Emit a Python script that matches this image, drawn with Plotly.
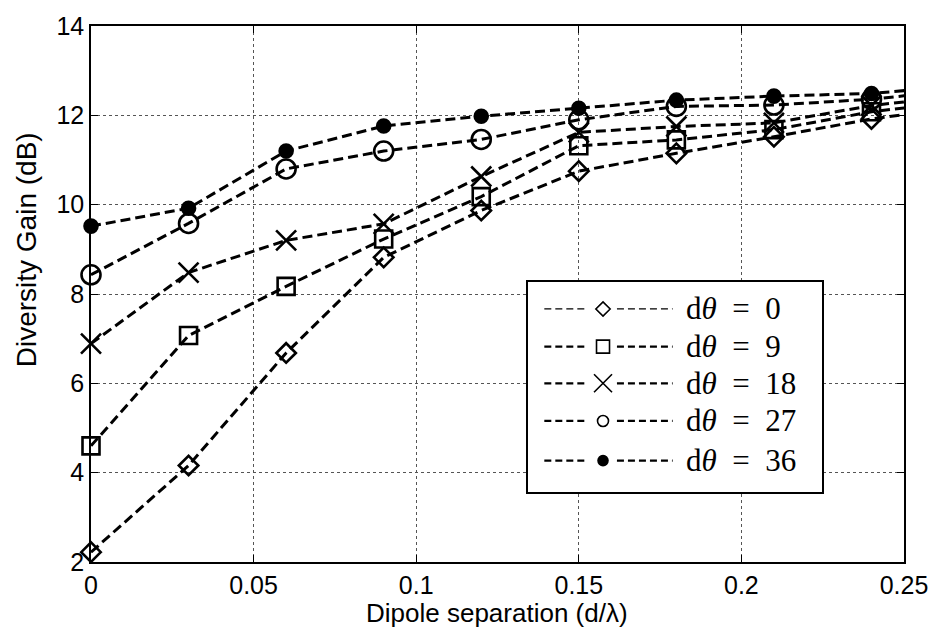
import plotly.graph_objects as go

# Dipole separation (d/lambda) sample points
separation = [0.0, 0.03, 0.06, 0.09, 0.12, 0.15, 0.18, 0.21, 0.24, 0.27]

# Diversity gain (dB) for each angular spread dtheta
gain_0 = [2.22, 4.16, 6.68, 8.82, 9.87, 10.75, 11.15, 11.52, 11.92, 12.20]
gain_9 = [4.60, 7.07, 8.17, 9.23, 10.18, 11.32, 11.45, 11.68, 12.08, 12.34]
gain_18 = [6.89, 8.48, 9.20, 9.57, 10.63, 11.62, 11.75, 11.83, 12.22, 12.46]
gain_27 = [8.43, 9.58, 10.80, 11.20, 11.46, 11.90, 12.20, 12.23, 12.36, 12.59]
gain_36 = [9.52, 9.92, 11.20, 11.76, 11.98, 12.16, 12.34, 12.43, 12.49, 12.68]

labels = ["0", "9", "18", "27", "36"]
x_ticks = [0, 0.05, 0.1, 0.15, 0.2, 0.25]
x_tick_text = ["0", "0.05", "0.1", "0.15", "0.2", "0.25"]
y_ticks = [2, 4, 6, 8, 10, 12, 14]

series = [gain_0, gain_9, gain_18, gain_27, gain_36]
symbols = ["diamond-open", "square-open", "x-thin-open", "circle-open", "circle"]
plot_sizes = [15, 17, 20, 19, 13]
legend_sizes = [11, 13, 18, 11, 10]

fig = go.Figure()

for vals, sym, sz in zip(series, symbols, plot_sizes):
    fig.add_trace(go.Scatter(
        x=separation, y=vals, mode="lines+markers",
        line=dict(color="black", width=3, dash="10px,5px"),
        marker=dict(symbol=sym, size=sz, color="black",
                    line=dict(color="black", width=2.6)),
        cliponaxis=False, showlegend=False, hoverinfo="skip",
    ))

# Legend panel drawn on its own inset axes (units: px inside the box)
row_y = [185, 147, 110, 72, 32]
for i, (lab, sym, sz) in enumerate(zip(labels, symbols, legend_sizes)):
    fig.add_trace(go.Scatter(
        x=[16, 60, None, 89, 145], y=[row_y[i]] * 5, xaxis="x2", yaxis="y2",
        mode="lines",
        line=dict(color="black", width=1.3 if i == 0 else 2.2, dash="7px,4px"),
        showlegend=False, hoverinfo="skip",
    ))
    fig.add_trace(go.Scatter(
        x=[75], y=[row_y[i]], xaxis="x2", yaxis="y2", mode="markers",
        marker=dict(symbol=sym, size=sz, color="black",
                    line=dict(color="black", width=1.6)),
        showlegend=False, hoverinfo="skip",
    ))
    fig.add_annotation(
        x=156, y=row_y[i], xref="x2", yref="y2", xanchor="left", yanchor="middle",
        text="d<i>θ</i>\u2002=\u2002" + lab, showarrow=False,
        font=dict(family="Liberation Serif", size=31, color="black"),
    )

axis_common = dict(
    showline=True, linecolor="black", linewidth=1.5, mirror="ticks",
    ticks="inside", ticklen=7, tickcolor="black", tickwidth=1,
    showgrid=True, gridcolor="#555555", gridwidth=1, griddash="dot",
    zeroline=False,
    tickfont=dict(family="Liberation Sans", size=25, color="black"),
)

fig.update_layout(
    width=940, height=630,
    margin=dict(l=91, r=30, t=22, b=68),
    paper_bgcolor="white", plot_bgcolor="white",
    xaxis=dict(range=[0, 0.25], tickvals=x_ticks, ticktext=x_tick_text, **axis_common),
    yaxis=dict(range=[2, 14], tickvals=y_ticks, **axis_common),
    xaxis2=dict(domain=[0.538, 0.899], range=[0, 295], anchor="y2",
                showline=True, linecolor="black", linewidth=1.5, mirror=True,
                showgrid=False, zeroline=False, showticklabels=False, ticks=""),
    yaxis2=dict(domain=[0.13, 0.522], range=[0, 212], anchor="x2",
                showline=True, linecolor="black", linewidth=1.5, mirror=True,
                showgrid=False, zeroline=False, showticklabels=False, ticks=""),
    showlegend=False,
)

fig.add_annotation(
    x=0.4994, y=-0.096, xref="paper", yref="paper", xanchor="center", yanchor="middle",
    text="Dipole separation (d/λ)", showarrow=False,
    font=dict(family="Liberation Sans", size=26, color="black"),
)
fig.add_annotation(
    x=-0.079, y=0.583, xref="paper", yref="paper", xanchor="center", yanchor="middle",
    text="Diversity Gain (dB)", textangle=-90, showarrow=False,
    font=dict(family="Liberation Sans", size=28, color="black"),
)

fig.write_html("out.html")
